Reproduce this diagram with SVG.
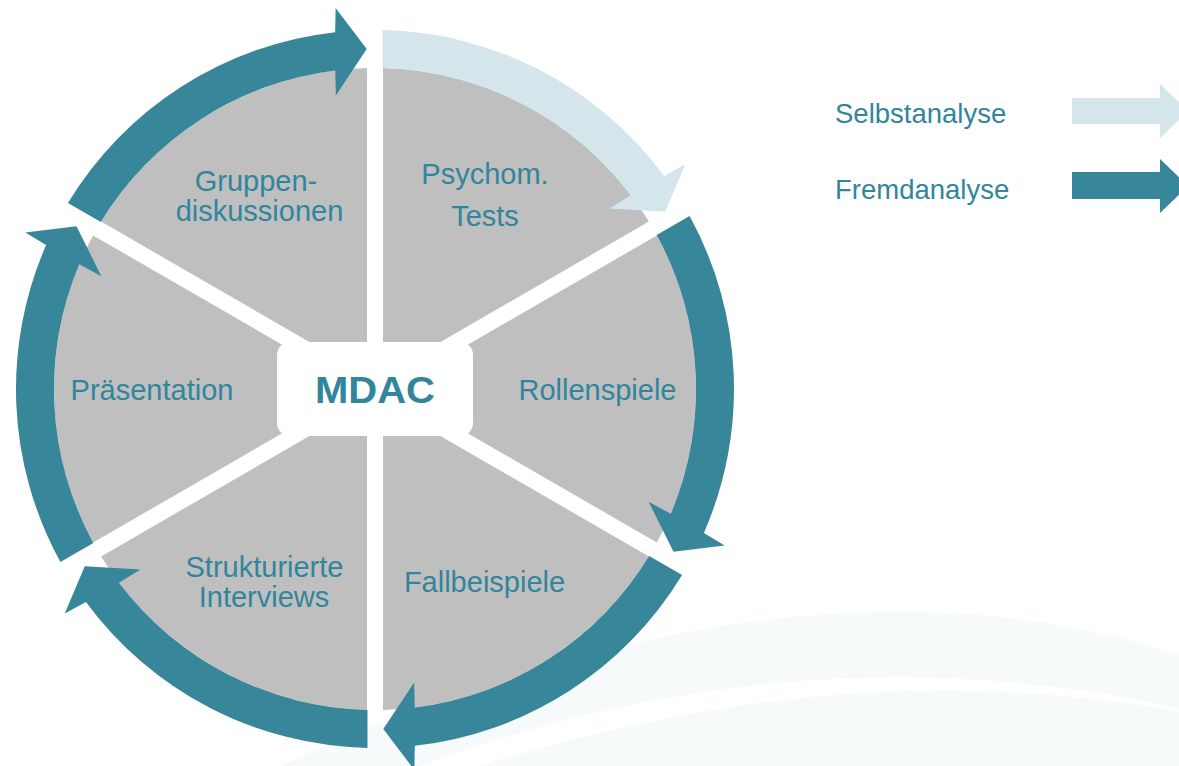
<svg xmlns="http://www.w3.org/2000/svg" width="1179" height="766" viewBox="0 0 1179 766">
  <style>
    .seg { fill: #BFBFBF; }
    .lbl { font-family: "Liberation Sans", Arial, sans-serif; font-size: 29px; fill: #31859C; text-anchor: middle; }
    .leg { font-family: "Liberation Sans", Arial, sans-serif; font-size: 27.5px; fill: #31859C; }
    .dark { fill: #37869A; }
    .light { fill: #D4E6EB; }
  </style>
  <defs>
    <path id="sector" d="M383,375.14 L383,68.10 A321,321 0 0 1 648.91,221.62 Z"/>
    <path id="arc" d="M382.52,30.08 A359,359 0 0 1 664.07,176.11 L685.25,164.42 L665.21,211.86 L609.52,208.40 L630.99,195.32 A321,321 0 0 0 382.51,68.09 Z"/>
  </defs>
  <rect width="1179" height="766" fill="#FFFFFF"/>
  <g id="background" fill="#F6FAFB">
    <path d="M280,766 Q800,530 1179,655 L1179,708 Q800,625 420,766 Z"/>
    <path d="M480,766 Q850,650 1179,712 L1179,766 Z"/>
  </g>
  <g id="seg-psychom">
    <use href="#sector" class="seg"/>
    <text class="lbl" x="485" y="184">Psychom.</text>
    <text class="lbl" x="485" y="226">Tests</text>
  </g>
  <g id="seg-rollenspiele">
    <use href="#sector" class="seg" transform="rotate(60 375 389)"/>
    <text class="lbl" x="597.5" y="400">Rollenspiele</text>
  </g>
  <g id="seg-fallbeispiele">
    <use href="#sector" class="seg" transform="rotate(120 375 389)"/>
    <text class="lbl" x="484.5" y="592">Fallbeispiele</text>
  </g>
  <g id="seg-interviews">
    <use href="#sector" class="seg" transform="rotate(180 375 389)"/>
    <text class="lbl" x="264.5" y="577">Strukturierte</text>
    <text class="lbl" x="264" y="607">Interviews</text>
  </g>
  <g id="seg-praesentation">
    <use href="#sector" class="seg" transform="rotate(240 375 389)"/>
    <text class="lbl" x="152" y="400">Präsentation</text>
  </g>
  <g id="seg-gruppen">
    <use href="#sector" class="seg" transform="rotate(300 375 389)"/>
    <text class="lbl" x="256" y="191">Gruppen-</text>
    <text class="lbl" x="259.5" y="221">diskussionen</text>
  </g>
  <g id="connectors">
    <use href="#arc" class="light"/>
    <use href="#arc" class="dark" transform="rotate(60 375 389)"/>
    <use href="#arc" class="dark" transform="rotate(120 375 389)"/>
    <use href="#arc" class="dark" transform="rotate(180 375 389)"/>
    <use href="#arc" class="dark" transform="rotate(240 375 389)"/>
    <use href="#arc" class="dark" transform="rotate(300 375 389)"/>
  </g>
  <g id="center">
    <rect x="277" y="342" width="196" height="94" rx="13" fill="#FFFFFF"/>
    <text x="375" y="403" font-family="'Liberation Sans', Arial, sans-serif" font-size="37" font-weight="bold" fill="#31859C" text-anchor="middle" textLength="120" lengthAdjust="spacingAndGlyphs">MDAC</text>
  </g>
  <g id="legend-selbst">
    <text class="leg" x="835" y="123">Selbstanalyse</text>
    <path class="light" d="M1072,98 L1160,98 L1160,84 L1188,111 L1160,138 L1160,124 L1072,124 Z"/>
  </g>
  <g id="legend-fremd">
    <text class="leg" x="835" y="199">Fremdanalyse</text>
    <path class="dark" d="M1072,172 L1160,172 L1160,159 L1188,186 L1160,213 L1160,199 L1072,199 Z"/>
  </g>
</svg>
